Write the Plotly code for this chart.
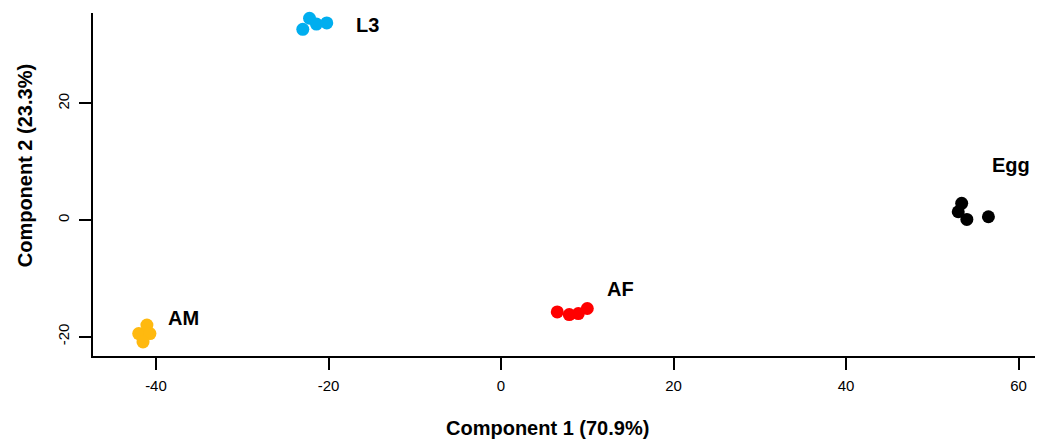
import plotly.graph_objects as go

groups = ["L3", "Egg", "AF", "AM"]
colors = ["#00AEEF", "#000000", "#FF0000", "#FFB90F"]
comp1 = {
    "L3": [-22.98, -22.2, -21.4, -20.2],
    "Egg": [53.4, 53.0, 54.0, 56.5],
    "AF": [6.52, 7.91, 8.96, 10.0],
    "AM": [-42.0, -41.05, -40.7, -41.5],
}
comp2 = {
    "L3": [32.7, 34.6, 33.6, 33.8],
    "Egg": [2.87, 1.43, 0.12, 0.57],
    "AF": [-15.74, -16.19, -16.02, -15.16],
    "AM": [-19.45, -18.0, -19.45, -20.9],
}
label_x = [-15.5, 59.1, 13.8, -36.8]
label_y = [33.5, 9.4, -11.8, -16.8]
xticks = [-40, -20, 0, 20, 40, 60]
xticktext = ["-40", "-20", "0", "20", "40", "60"]
yticks = [-20, 0, 20]
yticktext = ["-20", "0", "20"]
xtitle = "Component 1 (70.9%)"
ytitle = "Component 2 (23.3%)"

fig = go.Figure()
for g, c in zip(groups, colors):
    fig.add_trace(go.Scatter(x=comp1[g], y=comp2[g], mode="markers",
                             marker=dict(color=c, size=13, line=dict(width=0)),
                             cliponaxis=False, name=g, showlegend=False))

for g, lx, ly in zip(groups, label_x, label_y):
    fig.add_annotation(x=lx, y=ly, text="<b>" + g + "</b>", showarrow=False,
                       font=dict(family="Liberation Sans, Arial", size=20, color="black"),
                       xanchor="center", yanchor="middle")

# axis titles placed as annotations (paper coordinates)
fig.add_annotation(x=0.483, y=-0.21, xref="paper", yref="paper", text="<b>" + xtitle + "</b>",
                   showarrow=False, font=dict(family="Liberation Sans, Arial", size=20, color="black"),
                   xanchor="center", yanchor="middle")
fig.add_annotation(x=-0.0722, y=0.556, xref="paper", yref="paper", text="<b>" + ytitle + "</b>",
                   showarrow=False, textangle=-90,
                   font=dict(family="Liberation Sans, Arial", size=20, color="black"),
                   xanchor="center", yanchor="middle")

fig.update_layout(
    width=1037, height=439,
    margin=dict(l=93, r=2, t=13, b=83, autoexpand=False),
    plot_bgcolor="white", paper_bgcolor="white",
    font=dict(family="Liberation Sans, Arial", color="black"),
    xaxis=dict(range=[-47.3, 61.9], tickvals=xticks, ticktext=xticktext,
               ticks="outside", ticklen=12,
               tickwidth=1.5, tickcolor="black", showline=True, linecolor="black",
               linewidth=1.5, showgrid=False, zeroline=False,
               tickfont=dict(size=15), ticklabelstandoff=3, automargin=False),
    yaxis=dict(range=[-23.3, 35.5], tickvals=yticks, ticktext=yticktext,
               ticks="outside", ticklen=12,
               tickwidth=1.5, tickcolor="black", showline=True, linecolor="black",
               linewidth=1.5, showgrid=False, zeroline=False, tickangle=-90,
               tickfont=dict(size=15), ticklabelstandoff=4, automargin=False),
)

fig.write_html("out.html", config={"displayModeBar": False},
               post_script="document.body.style.margin='0';")
